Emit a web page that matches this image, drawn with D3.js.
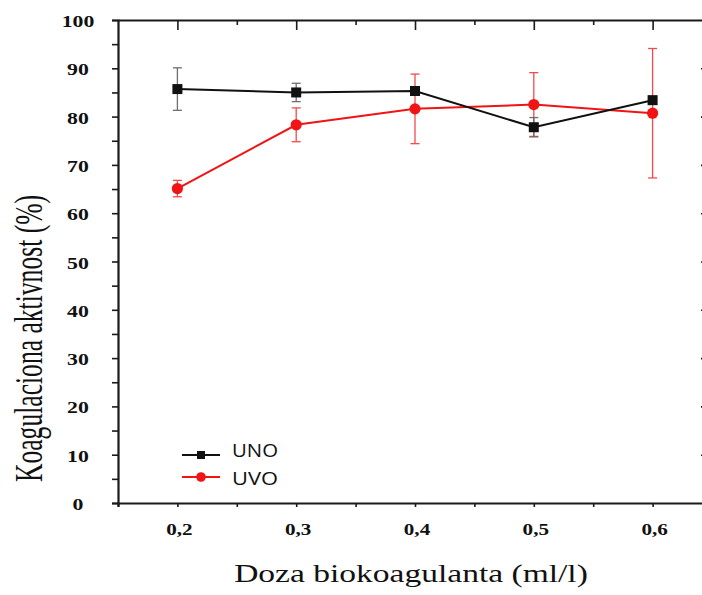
<!DOCTYPE html>
<html>
<head>
<meta charset="utf-8">
<script src="https://cdn.jsdelivr.net/npm/d3@7/dist/d3.min.js"></script>
<style>
  html, body { margin: 0; padding: 0; background: #ffffff; overflow: hidden; }
  svg { display: block; overflow: hidden; }
</style>
</head>
<body>
<svg id="chart" width="702" height="595"></svg>
<script>
// Doses of bio-coagulant (ml/l)
const doses = [0.2, 0.3, 0.4, 0.5, 0.6];
// Coagulation activity (%) and error half-widths
const unoValues = [85.7, 85.0, 85.3, 77.8, 83.4];
const unoErrors = [4.4, 1.9, 0.6, 2.0, 0.8];
const uvoValues = [65.1, 78.3, 81.6, 82.5, 80.7];
const uvoErrors = [1.7, 3.5, 7.2, 6.6, 13.4];
const seriesNames = ["UNO", "UVO"];
const xTickLabels = ["0,2", "0,3", "0,4", "0,5", "0,6"];
const yTickValues = [0, 10, 20, 30, 40, 50, 60, 70, 80, 90, 100];
const xTitle = "Doza biokoagulanta (ml/l)";
const yTitle = "Koagulaciona aktivnost (%)";

const svg = d3.select("#chart");
const x = d3.scaleLinear().domain([0.15, 0.65]).range([118, 712]);
const y = d3.scaleLinear().domain([0, 100]).range([503, 20]);

const serif = "'Liberation Serif', 'Times New Roman', serif";
const stretch = 1.32;
const axisColor = "#1a1a1a";

// Frame axes
const gLeft = svg.append("g").attr("transform", `translate(${x.range()[0]},0)`)
  .call(d3.axisLeft(y).tickValues(d3.range(0, 101, 5)).tickSize(6).tickFormat(""));
const gRight = svg.append("g").attr("transform", `translate(${x.range()[1]},0)`)
  .call(d3.axisLeft(y).tickValues(d3.range(10, 100, 10)).tickSize(11).tickSizeOuter(0).tickFormat(""));
const gTopMajor = svg.append("g").attr("transform", `translate(0,${y.range()[1]})`)
  .call(d3.axisBottom(x).tickValues(doses).tickSize(10).tickSizeOuter(0).tickFormat(""));
const gTopMinor = svg.append("g").attr("transform", `translate(0,${y.range()[1]})`)
  .call(d3.axisBottom(x).tickValues([0.25, 0.35, 0.45, 0.55]).tickSize(5).tickFormat(""));
const gBottom = svg.append("g").attr("transform", `translate(0,${y.range()[0]})`)
  .call(d3.axisBottom(x).tickValues(d3.range(0.15, 0.651, 0.05)).tickSize(4).tickFormat(""));

[gLeft, gRight, gTopMajor, gTopMinor, gBottom].forEach(g => {
  g.select(".domain").attr("stroke", axisColor).attr("stroke-width", 2.2);
  g.selectAll(".tick line").attr("stroke", axisColor).attr("stroke-width", 1.6);
});
gTopMinor.select(".domain").remove();
// the right frame edge lies past the visible area; only its tick ends reach in
gRight.select(".domain").remove();

// Tick labels (bold serif, widened)
svg.append("g").selectAll("text").data(yTickValues).join("text")
  .attr("transform", d => `translate(78,${y(d) + 7}) scale(${stretch},1)`)
  .attr("text-anchor", "middle")
  .attr("font-family", serif).attr("font-weight", "bold").attr("font-size", 16.5)
  .attr("fill", "#111").text(d => d);

svg.append("g").selectAll("text").data(doses).join("text")
  .attr("transform", (d) => `translate(${x(d) + 2},535) scale(${stretch},1)`)
  .attr("text-anchor", "middle")
  .attr("font-family", serif).attr("font-weight", "bold").attr("font-size", 16)
  .attr("fill", "#111").text((d, i) => xTickLabels[i]);

// Axis titles
svg.append("text")
  .attr("transform", `translate(411,582) scale(1.28,1)`)
  .attr("text-anchor", "middle")
  .attr("font-family", serif).attr("font-size", 26.2).attr("fill", "#111")
  .text(xTitle);

svg.append("text")
  .attr("transform", `translate(42,338.5) scale(1.55,1) rotate(-90)`)
  .attr("text-anchor", "middle")
  .attr("font-family", serif).attr("font-size", 25.6).attr("fill", "#111")
  .text(yTitle);

// Series
const series = [
  { name: seriesNames[1], values: uvoValues, errors: uvoErrors, color: "#f01414", errColor: "#f24a4a", shape: "circle" },
  { name: seriesNames[0], values: unoValues, errors: unoErrors, color: "#111111", errColor: "#6e6e6e", shape: "square" }
];

const line = d3.line().x(d => x(d[0])).y(d => y(d[1]));

series.forEach(s => {
  const pts = doses.map((d, i) => [d, s.values[i], s.errors[i]]);
  const g = svg.append("g");
  // error bars
  const eb = g.append("g").attr("stroke", s.errColor).attr("stroke-width", 1.3);
  pts.forEach(p => {
    eb.append("line").attr("x1", x(p[0])).attr("x2", x(p[0]))
      .attr("y1", y(p[1] - p[2])).attr("y2", y(p[1] + p[2]));
    [p[1] - p[2], p[1] + p[2]].forEach(v => {
      eb.append("line").attr("x1", x(p[0]) - 4.5).attr("x2", x(p[0]) + 4.5)
        .attr("y1", y(v)).attr("y2", y(v));
    });
  });
  g.append("path").datum(pts).attr("d", line)
    .attr("fill", "none").attr("stroke", s.color).attr("stroke-width", 2);
  if (s.shape === "circle") {
    g.selectAll("circle").data(pts).join("circle")
      .attr("cx", d => x(d[0])).attr("cy", d => y(d[1])).attr("r", 5.6)
      .attr("fill", s.color);
  } else {
    g.selectAll("rect").data(pts).join("rect")
      .attr("x", d => x(d[0]) - 5).attr("y", d => y(d[1]) - 5)
      .attr("width", 10).attr("height", 10).attr("fill", s.color);
  }
});

// Legend
const legend = svg.append("g");
const legendItems = [
  { name: seriesNames[0], color: "#111111", shape: "square", ly: 455, ty: 457 },
  { name: seriesNames[1], color: "#f01414", shape: "circle", ly: 477, ty: 485 }
];
legendItems.forEach(it => {
  legend.append("line").attr("x1", 182).attr("x2", 220).attr("y1", it.ly).attr("y2", it.ly)
    .attr("stroke", it.color).attr("stroke-width", 2);
  if (it.shape === "square") {
    legend.append("rect").attr("x", 197).attr("y", it.ly - 4).attr("width", 8).attr("height", 8)
      .attr("fill", it.color);
  } else {
    legend.append("circle").attr("cx", 201).attr("cy", it.ly).attr("r", 4.8).attr("fill", it.color);
  }
  legend.append("text").attr("x", 232).attr("y", it.ty)
    .attr("font-family", "'Open Sans', 'Noto Sans', sans-serif").attr("font-size", 18.5)
    .attr("textLength", 46).attr("lengthAdjust", "spacingAndGlyphs")
    .attr("fill", "#111").text(it.name);
});
</script>
</body>
</html>
